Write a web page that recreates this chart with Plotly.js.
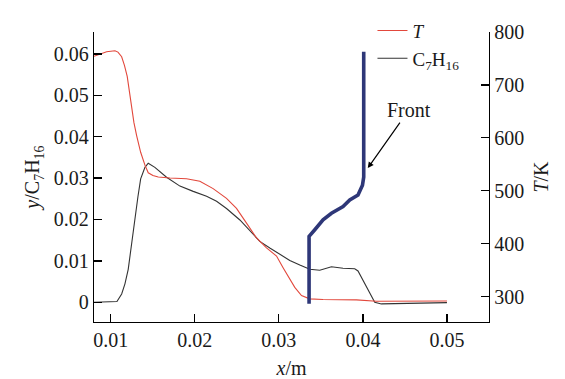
<!DOCTYPE html>
<html>
<head>
<meta charset="utf-8">
<script src="https://cdn.plot.ly/plotly-3.0.1.min.js"></script>
<style>html,body{margin:0;padding:0;background:#fff;}#chart{width:565px;height:379px;}</style>
</head>
<body>
<div id="chart"></div>
<script>
// Temperature profile T (K, right axis)
const tX = [0.00802,0.00873,0.00952,0.01051,0.01087,0.01131,0.01164,0.01197,0.01223,0.0125,0.01277,0.01309,0.01357,0.01408,0.01447,0.01503,0.01566,0.01705,0.01903,0.02061,0.02219,0.02378,0.02497,0.02616,0.02735,0.02854,0.02973,0.03051,0.03131,0.0319,0.0327,0.03368,0.03526,0.03923,0.04161,0.05];
const tVal = [754,758.5,762.6,764.5,762,753.3,737,716,684.8,653.6,628.7,604.4,572.7,548.4,534,528.8,526,524.1,522.8,518,504.1,485.5,466.8,438.8,410.8,392.1,376.6,354.7,334.6,317.4,301.9,295.7,294.4,293.8,291.2,291.6];

// C7H16 mass fraction (left axis)
const cX = [0.00802,0.01031,0.01075,0.01131,0.0117,0.01209,0.0125,0.01289,0.01324,0.01357,0.01408,0.01447,0.01526,0.01665,0.01824,0.01982,0.02141,0.0226,0.02378,0.02537,0.02695,0.02774,0.02893,0.03012,0.03131,0.0325,0.03368,0.03487,0.03626,0.03764,0.03903,0.03942,0.04042,0.04141,0.0422,0.05];
const cVal = [0,0,0.00017,0.002,0.00446,0.00796,0.0147,0.02107,0.02544,0.0298,0.0326,0.03361,0.0326,0.0302,0.02806,0.02679,0.0256,0.02441,0.02265,0.01988,0.0163,0.01471,0.01311,0.01168,0.01011,0.00899,0.00796,0.00772,0.00858,0.0082,0.0081,0.00756,0.00358,0,-0.0004,-0.0001];

// Front line (plotted against T axis)
const fX = [0.0336,0.0336,0.03428,0.03526,0.03626,0.03764,0.03844,0.03942,0.03995,0.0401,0.0401];
const fVal = [286.4,413.9,426.4,445.1,457.5,470,482.5,491.8,510.5,526,762.6];

const xTicks = [0.01,0.02,0.03,0.04,0.05];
const xTickText = ['0.01','0.02','0.03','0.04','0.05'];
const yTicks = [0,0.01,0.02,0.03,0.04,0.05,0.06];
const yTickText = ['0','0.01','0.02','0.03','0.04','0.05','0.06'];
const y2Ticks = [300,400,500,600,700,800];
const y2TickText = ['300','400','500','600','700','800'];

const FONT = 'Liberation Serif, Times New Roman, serif';
const TXT = '#1a1a1a';

const traces = [
  {x: tX, y: tVal, yaxis: 'y2', mode: 'lines', name: '<i>T</i>',
   line: {color: '#E2483C', width: 1.1}},
  {x: cX, y: cVal, yaxis: 'y', mode: 'lines', name: 'C<sub>7</sub>H<sub>16</sub>',
   line: {color: '#333333', width: 1.1}},
  {x: fX, y: fVal, yaxis: 'y2', mode: 'lines', name: 'Front', showlegend: false,
   line: {color: '#2E3778', width: 3.6}}
];

const axisCommon = {
  showgrid: false, zeroline: false, showline: true, linecolor: '#000', linewidth: 1.3,
  ticks: 'inside', ticklen: 8, tickwidth: 1.3, tickcolor: '#000',
  tickfont: {family: FONT, size: 20, color: TXT}
};

const layout = {
  width: 565, height: 379,
  margin: {l: 94, r: 76, t: 28, b: 57},
  paper_bgcolor: '#fff', plot_bgcolor: '#fff',
  font: {family: FONT, size: 20, color: TXT},
  showlegend: true,
  legend: {x: 0.705, y: 1.07, xanchor: 'left', yanchor: 'top',
           bgcolor: 'rgba(0,0,0,0)', font: {family: FONT, size: 19, color: TXT},
           tracegroupgap: 0},
  xaxis: Object.assign({}, axisCommon, {
    range: [0.00802, 0.0550], tickvals: xTicks, ticktext: xTickText,
    title: {text: '<i>x</i>/m', font: {family: FONT, size: 20, color: TXT}, standoff: 11}
  }),
  yaxis: Object.assign({}, axisCommon, {
    range: [-0.00477, 0.0653], tickvals: yTicks, ticktext: yTickText,
    title: {text: '<i>y</i>/C<sub>7</sub>H<sub>16</sub>', font: {family: FONT, size: 20, color: TXT}, standoff: 8}
  }),
  yaxis2: Object.assign({}, axisCommon, {
    overlaying: 'y', side: 'right', anchor: 'x',
    range: [252, 800], tickvals: y2Ticks, ticktext: y2TickText,
    title: {text: '<i>T</i>/K', font: {family: FONT, size: 20, color: TXT}, standoff: 10}
  }),
  annotations: [{
    x: 0.04058, y: 542.8, xref: 'x', yref: 'y2',
    text: 'Front', showarrow: true, ax: 41, ay: -58,
    arrowhead: 2, arrowsize: 1, arrowwidth: 1.2, arrowcolor: '#000',
    font: {family: FONT, size: 20, color: TXT}
  }]
};

Plotly.newPlot('chart', traces, layout, {displayModeBar: false, staticPlot: true});
</script>
</body>
</html>
